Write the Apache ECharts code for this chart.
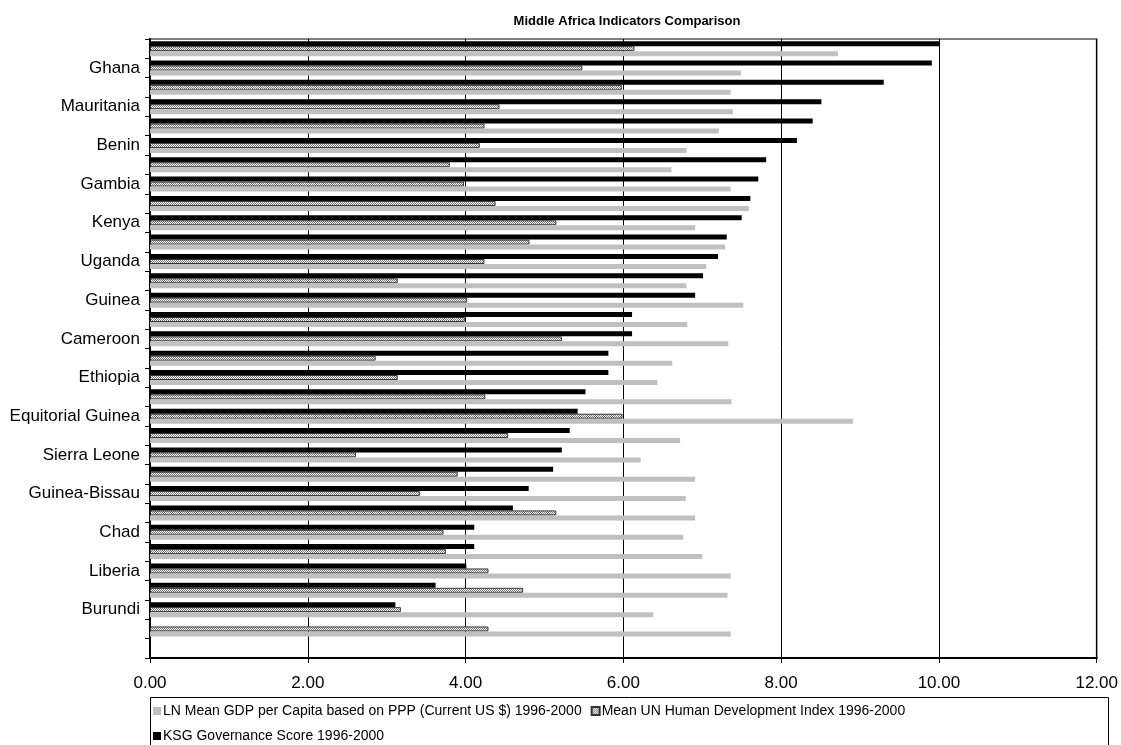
<!DOCTYPE html>
<html>
<head>
<meta charset="utf-8">
<title>Middle Africa Indicators Comparison</title>
<script src="https://cdn.jsdelivr.net/npm/echarts@6/dist/echarts.min.js"></script>
<style>
  html, body { margin: 0; padding: 0; background: #fff; }
  #chart { width: 1121px; height: 745px; }
</style>
</head>
<body>
<div id="chart"></div>
<script>
// Categories listed bottom to top; only every other row carries a visible name.
const categories = [
  '', '', 'Burundi', '', 'Liberia', '', 'Chad', '', 'Guinea-Bissau', '',
  'Sierra Leone', '', 'Equitorial Guinea', '', 'Ethiopia', '', 'Cameroon', '',
  'Guinea', '', 'Uganda', '', 'Kenya', '', 'Gambia', '', 'Benin', '',
  'Mauritania', '', 'Ghana', ''
];

const seriesNames = [
  'LN Mean GDP per Capita based on PPP (Current US $) 1996-2000',
  'Mean UN Human Development Index 1996-2000',
  'KSG Governance Score 1996-2000'
];

const gdpValues = [
  null, 7.36, 6.38, 7.32, 7.36, 7.00, 6.76, 6.91, 6.79, 6.91,
  6.22, 6.72, 8.91, 7.37, 6.43, 6.62, 7.33, 6.81, 7.52, 6.80,
  7.05, 7.29, 6.91, 7.59, 7.36, 6.61, 6.80, 7.21, 7.39, 7.36,
  7.49, 8.72
];

const hdiValues = [
  null, 4.29, 3.18, 4.73, 4.29, 3.75, 3.72, 5.15, 3.42, 3.90,
  2.61, 4.54, 5.99, 4.25, 3.14, 2.86, 5.22, 3.99, 4.02, 3.14,
  4.24, 4.81, 5.15, 4.38, 3.98, 3.80, 4.18, 4.24, 4.43, 5.98,
  5.48, 6.14
];

const ksgValues = [
  null, null, 3.11, 3.62, 4.01, 4.11, 4.11, 4.60, 4.80, 5.11,
  5.22, 5.32, 5.42, 5.52, 5.81, 5.81, 6.11, 6.11, 6.91, 7.01,
  7.20, 7.31, 7.50, 7.61, 7.71, 7.81, 8.20, 8.40, 8.51, 9.30,
  9.91, 10.00
];

const xTicks = { min: 0, max: 12, step: 2 };

// Fine gray/white dither used to fill the HDI bars.
function makeDither() {
  const c = document.createElement('canvas');
  c.width = 4; c.height = 4;
  const g = c.getContext('2d');
  g.fillStyle = '#ffffff';
  g.fillRect(0, 0, 4, 4);
  g.fillStyle = '#7a7a7a';
  for (let y = 0; y < 4; y++) {
    for (let x = 0; x < 4; x++) {
      if ((x + y) % 2 === 0) g.fillRect(x, y, 1, 1);
    }
  }
  return c;
}

const FONT = '"Liberation Sans", Arial, sans-serif';
const chart = echarts.init(document.getElementById('chart'), null, { renderer: 'canvas' });

const barW = 5;
const dither = makeDither();

// Within each category band ECharts stacks the first series at the top,
// so the governance bars come first and the GDP bars last.
chart.setOption({
  animation: false,
  backgroundColor: '#ffffff',
  title: {
    text: 'Middle Africa Indicators Comparison',
    left: 622,
    top: 10,
    textAlign: 'center',
    textStyle: { fontFamily: FONT, fontSize: 13, fontWeight: 'bold', color: '#000' }
  },
  grid: {
    left: 150, right: 23, top: 39, bottom: 87,
    show: true, borderColor: '#808080', borderWidth: 2, backgroundColor: '#fff'
  },
  legend: {
    data: seriesNames,
    left: 153,
    top: 703,
    width: 940,
    orient: 'horizontal',
    itemWidth: 8,
    itemHeight: 8,
    itemGap: 9,
    icon: 'rect',
    padding: 0,
    textStyle: { fontFamily: FONT, fontSize: 14, color: '#000', lineHeight: 16, padding: [0, 0, 0, -3] }
  },
  graphic: [{
    type: 'rect',
    shape: { x: 150.5, y: 697.5, width: 958, height: 60 },
    style: { fill: 'none', stroke: '#000', lineWidth: 1 },
    silent: true
  }],
  xAxis: {
    type: 'value',
    min: xTicks.min,
    max: xTicks.max,
    interval: xTicks.step,
    axisLine: { show: true, lineStyle: { color: '#000', width: 2 } },
    axisTick: { show: true, length: 5, lineStyle: { color: '#000', width: 1 } },
    axisLabel: {
      margin: 17,
      fontFamily: FONT, fontSize: 17, color: '#000',
      formatter: v => v.toFixed(2)
    },
    splitLine: { show: true, lineStyle: { color: '#000', width: 1 } }
  },
  yAxis: {
    type: 'category',
    data: categories,
    axisLine: { show: true, lineStyle: { color: '#000', width: 2 } },
    axisTick: { show: true, interval: 0, length: 5, lineStyle: { color: '#000', width: 1 } },
    axisLabel: {
      interval: 1,
      margin: 10,
      fontFamily: FONT, fontSize: 17, color: '#000'
    },
    splitLine: { show: false }
  },
  series: [
    {
      name: seriesNames[2],
      type: 'bar',
      data: ksgValues,
      barWidth: barW,
      barGap: '0%',
      itemStyle: { color: '#000000' }
    },
    {
      name: seriesNames[1],
      type: 'bar',
      data: hdiValues,
      barWidth: barW,
      barGap: '0%',
      itemStyle: {
        color: { image: dither, repeat: 'repeat' },
        borderColor: '#333333',
        borderWidth: 1
      }
    },
    {
      name: seriesNames[0],
      type: 'bar',
      data: gdpValues,
      barWidth: barW,
      barGap: '0%',
      itemStyle: { color: '#c0c0c0' }
    }
  ]
});
</script>
</body>
</html>
